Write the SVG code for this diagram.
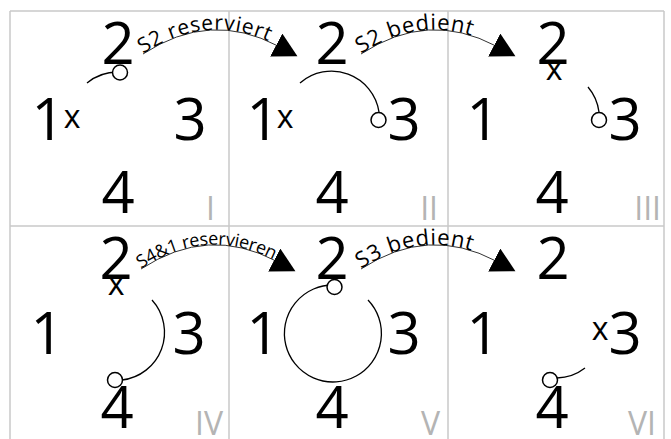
<svg xmlns="http://www.w3.org/2000/svg" xmlns:xlink="http://www.w3.org/1999/xlink" width="671" height="439" viewBox="0 0 671 439">
<style>
.grid{stroke:#c8c8c8;stroke-width:1.5;fill:none}
.d{font-family:"Open Sans","DejaVu Sans",sans-serif;font-size:58px;fill:#000;text-anchor:middle}
.x{font-family:"Open Sans","DejaVu Sans",sans-serif;font-size:32px;fill:#000;text-anchor:middle}
.r{font-family:"Open Sans","DejaVu Sans",sans-serif;font-size:32px;fill:#b4b4b4;text-anchor:end}
.lbl{font-family:"Open Sans","DejaVu Sans",sans-serif;font-size:21px;fill:#000}
.path{fill:none;stroke:#000;stroke-width:1.3}
.veh{fill:#fff;stroke:#000;stroke-width:1.5}
.conn{fill:none;stroke:#333;stroke-width:1}
</style>
<defs>
<marker id="ah" markerUnits="userSpaceOnUse" viewBox="0 0 30 30" markerWidth="30" markerHeight="30" refX="2" refY="13" orient="auto">
<path d="M0,0 L24,13 L0,26 z" fill="#000"/>
</marker>
<path id="p1" d="M143,54 Q210,10 278,46"/>
<path id="p2" d="M361,54 Q428,10 496,46"/>
<path id="p4" d="M141,269 Q208,225 276,261"/>
<path id="p5" d="M361,269 Q428,225 496,261"/>
</defs>
<g id="grid">
<line class="grid" x1="10" y1="11" x2="664" y2="11"/>
<line class="grid" x1="10" y1="226" x2="664" y2="226"/>
<line class="grid" x1="10" y1="11" x2="10" y2="439"/>
<line class="grid" x1="229" y1="11" x2="229" y2="439"/>
<line class="grid" x1="448" y1="11" x2="448" y2="439"/>
<line class="grid" x1="664" y1="11" x2="664" y2="439"/>
</g>
<g id="panel-I">
<text class="d" x="118" y="64">2</text>
<text class="d" x="48" y="140">1</text>
<text class="x" x="72" y="128">x</text>
<text class="d" x="190" y="140">3</text>
<text class="d" x="118" y="213">4</text>
<text class="r" x="215" y="220">I</text>
<path class="path" d="M87,83 A48,48 0 0 1 118,72"/>
<circle class="veh" cx="120" cy="72.5" r="7.5"/>
</g>
<g id="panel-II">
<text class="d" x="332" y="64">2</text>
<text class="d" x="263" y="140">1</text>
<text class="x" x="285" y="128">x</text>
<text class="d" x="404" y="140">3</text>
<text class="d" x="332" y="213">4</text>
<text class="r" x="438" y="220">II</text>
<path class="path" d="M300,83 A48,48 0 0 1 379,112"/>
<circle class="veh" cx="378.5" cy="120" r="7.5"/>
</g>
<g id="panel-III">
<text class="d" x="553" y="64">2</text>
<text class="x" x="554" y="80">x</text>
<text class="d" x="483" y="140">1</text>
<text class="d" x="625" y="140">3</text>
<text class="d" x="552" y="213">4</text>
<text class="r" x="661" y="220">III</text>
<path class="path" d="M588,87 A48,48 0 0 1 599,112"/>
<circle class="veh" cx="599" cy="120" r="7.5"/>
</g>
<g id="panel-IV">
<text class="d" x="116" y="279">2</text>
<text class="x" x="116" y="295">x</text>
<text class="d" x="47" y="354">1</text>
<text class="d" x="189" y="354">3</text>
<text class="d" x="117" y="428">4</text>
<text class="r" x="223" y="435">IV</text>
<path class="path" d="M152,300 A48,48 0 0 1 122,380"/>
<circle class="veh" cx="115" cy="380" r="7.5"/>
</g>
<g id="panel-V">
<text class="d" x="332" y="279">2</text>
<text class="d" x="263" y="354">1</text>
<text class="d" x="404" y="354">3</text>
<text class="d" x="332" y="428">4</text>
<text class="r" x="440" y="435">V</text>
<path class="path" d="M334,285 A48.5,48.5 0 1 0 368,300"/>
<circle class="veh" cx="334.5" cy="287" r="7.5"/>
</g>
<g id="panel-VI">
<text class="d" x="553" y="279">2</text>
<text class="d" x="483" y="354">1</text>
<text class="x" x="600" y="340">x</text>
<text class="d" x="625" y="354">3</text>
<text class="d" x="552" y="428">4</text>
<text class="r" x="656" y="435">VI</text>
<path class="path" d="M557,378 A48,48 0 0 0 585,368"/>
<circle class="veh" cx="550" cy="380" r="7.5"/>
</g>
<g id="connectors">
<use xlink:href="#p1" class="conn" marker-end="url(#ah)"/>
<use xlink:href="#p2" class="conn" marker-end="url(#ah)"/>
<use xlink:href="#p4" class="conn" marker-end="url(#ah)"/>
<use xlink:href="#p5" class="conn" marker-end="url(#ah)"/>
<text class="lbl"><textPath xlink:href="#p1" textLength="132" lengthAdjust="spacing">S2 reserviert</textPath></text>
<text class="lbl" style="font-size:22px"><textPath xlink:href="#p2" textLength="116" lengthAdjust="spacing">S2 bedient</textPath></text>
<text class="lbl" style="font-size:18px"><textPath xlink:href="#p4" textLength="140" lengthAdjust="spacing">S4&amp;1 reservieren</textPath></text>
<text class="lbl" style="font-size:22px"><textPath xlink:href="#p5" textLength="116" lengthAdjust="spacing">S3 bedient</textPath></text>
</g>
</svg>
